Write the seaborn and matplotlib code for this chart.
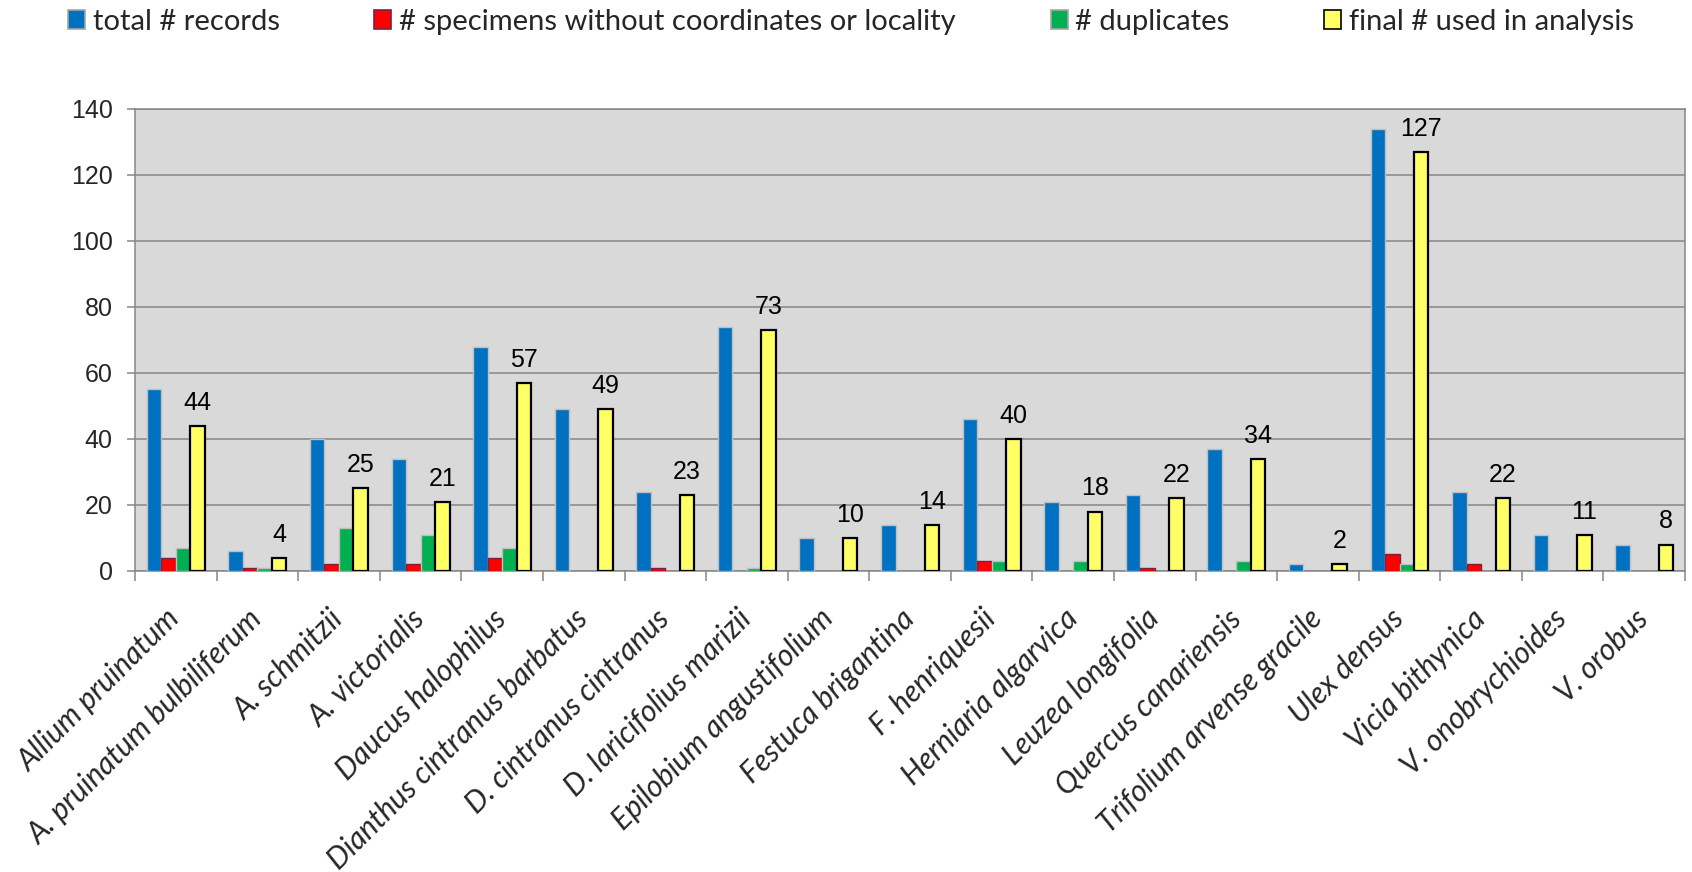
import numpy as np
import pandas as pd
import matplotlib
matplotlib.use("Agg")
import matplotlib.pyplot as plt
import seaborn as sns
from matplotlib.patches import Patch
from matplotlib.ticker import FixedLocator, NullFormatter

species = [
    "Allium pruinatum", "A. pruinatum bulbiliferum", "A. schmitzii", "A. victorialis",
    "Daucus halophilus", "Dianthus cintranus barbatus", "D. cintranus cintranus",
    "D. laricifolius marizii", "Epilobium angustifolium", "Festuca brigantina",
    "F. henriquesii", "Herniaria algarvica", "Leuzea longifolia", "Quercus canariensis",
    "Trifolium arvense gracile", "Ulex densus", "Vicia bithynica", "V. onobrychioides",
    "V. orobus",
]
total_records = [55, 6, 40, 34, 68, 49, 24, 74, 10, 14, 46, 21, 23, 37, 2, 134, 24, 11, 8]
no_coords = [4, 1, 2, 2, 4, 0, 1, 0, 0, 0, 3, 0, 1, 0, 0, 5, 2, 0, 0]
duplicates = [7, 1, 13, 11, 7, 0, 0, 1, 0, 0, 3, 3, 0, 3, 0, 2, 0, 0, 0]
final_used = [44, 4, 25, 21, 57, 49, 23, 73, 10, 14, 40, 18, 22, 34, 2, 127, 22, 11, 8]

series_names = [
    "total # records",
    "# specimens without coordinates or locality",
    "# duplicates",
    "final # used in analysis",
]
y_ticks = [0, 20, 40, 60, 80, 100, 120, 140]

fill_colors = ["#0070C0", "#FF0000", "#00B050", "#FFFF66"]
edge_colors = ["#BFBFBF", "#7F1F3F", "#BFBFBF", "#000000"]
edge_widths = [1.0, 1.0, 1.0, 1.6]

df = pd.DataFrame({
    "species": species,
    series_names[0]: total_records,
    series_names[1]: no_coords,
    series_names[2]: duplicates,
    series_names[3]: final_used,
})
long = df.melt(id_vars="species", var_name="series", value_name="count")

sns.set_style("white")
plt.rcParams["font.family"] = ["Liberation Sans", "DejaVu Sans"]

fig, ax = plt.subplots(figsize=(16.92, 8.72), dpi=100)
fig.subplots_adjust(left=0.0798, right=0.9959, top=0.875, bottom=0.3452)

sns.barplot(
    data=long, x="species", y="count", hue="series",
    order=species, hue_order=series_names, palette=fill_colors,
    saturation=1, width=0.71, gap=0, legend=False, ax=ax, zorder=3,
)

for cont, ec, lw in zip(ax.containers, edge_colors, edge_widths):
    for bar in cont:
        bar.set_edgecolor(ec)
        bar.set_linewidth(lw if bar.get_height() > 0 else 0)
        bar.set_zorder(3)

ax.bar_label(ax.containers[3], labels=[str(v) for v in final_used],
             padding=8, fontsize=18, family="Liberation Sans", color="black")

grid_col = "#868686"
ax.set_facecolor("#D9D9D9")
ax.set_ylim(0, 140)
ax.set_xlim(-0.5, len(species) - 0.5)
ax.set_yticks(y_ticks)
ax.yaxis.grid(True, color=grid_col, linewidth=1.1, zorder=1)
ax.xaxis.grid(False)
ax.set_axisbelow(True)
for side in ["left", "right", "top", "bottom"]:
    ax.spines[side].set_visible(True)
    ax.spines[side].set_color(grid_col)
    ax.spines[side].set_linewidth(1.1)

ax.set_xlabel("")
ax.set_ylabel("")

ax.tick_params(axis="y", which="major", length=6, width=1.1, color=grid_col,
               labelsize=18, pad=10, left=True)
for lab in ax.get_yticklabels():
    lab.set_fontfamily("Liberation Sans")

# category separators below the axis
ax.xaxis.set_minor_locator(FixedLocator(np.arange(-0.5, len(species), 1.0)))
ax.xaxis.set_minor_formatter(NullFormatter())
ax.tick_params(axis="x", which="minor", length=7.5, width=1.1, color=grid_col, bottom=True)
ax.tick_params(axis="x", which="major", length=0, pad=31)
ax.set_xticks(range(len(species)))
ax.set_xticklabels(species, rotation=45, ha="right", va="center",
                   rotation_mode="anchor", fontsize=21.5,
                   fontfamily="Lato", fontstyle="italic")

handles = [Patch(facecolor=fc, edgecolor=ec, linewidth=1.2)
           for fc, ec in zip(fill_colors, ["#A6A6A6", "#7F1F3F", "#A6A6A6", "#000000"])]
fig.legend(handles, series_names, loc="center", bbox_to_anchor=(0.503, 0.975),
           ncol=4, frameon=False, prop={"family": "Lato", "size": 21},
           handlelength=0.58, handleheight=0.58, handletextpad=0.27,
           columnspacing=3.25, borderaxespad=0)

fig.savefig("out.png", dpi=100, facecolor="white")
